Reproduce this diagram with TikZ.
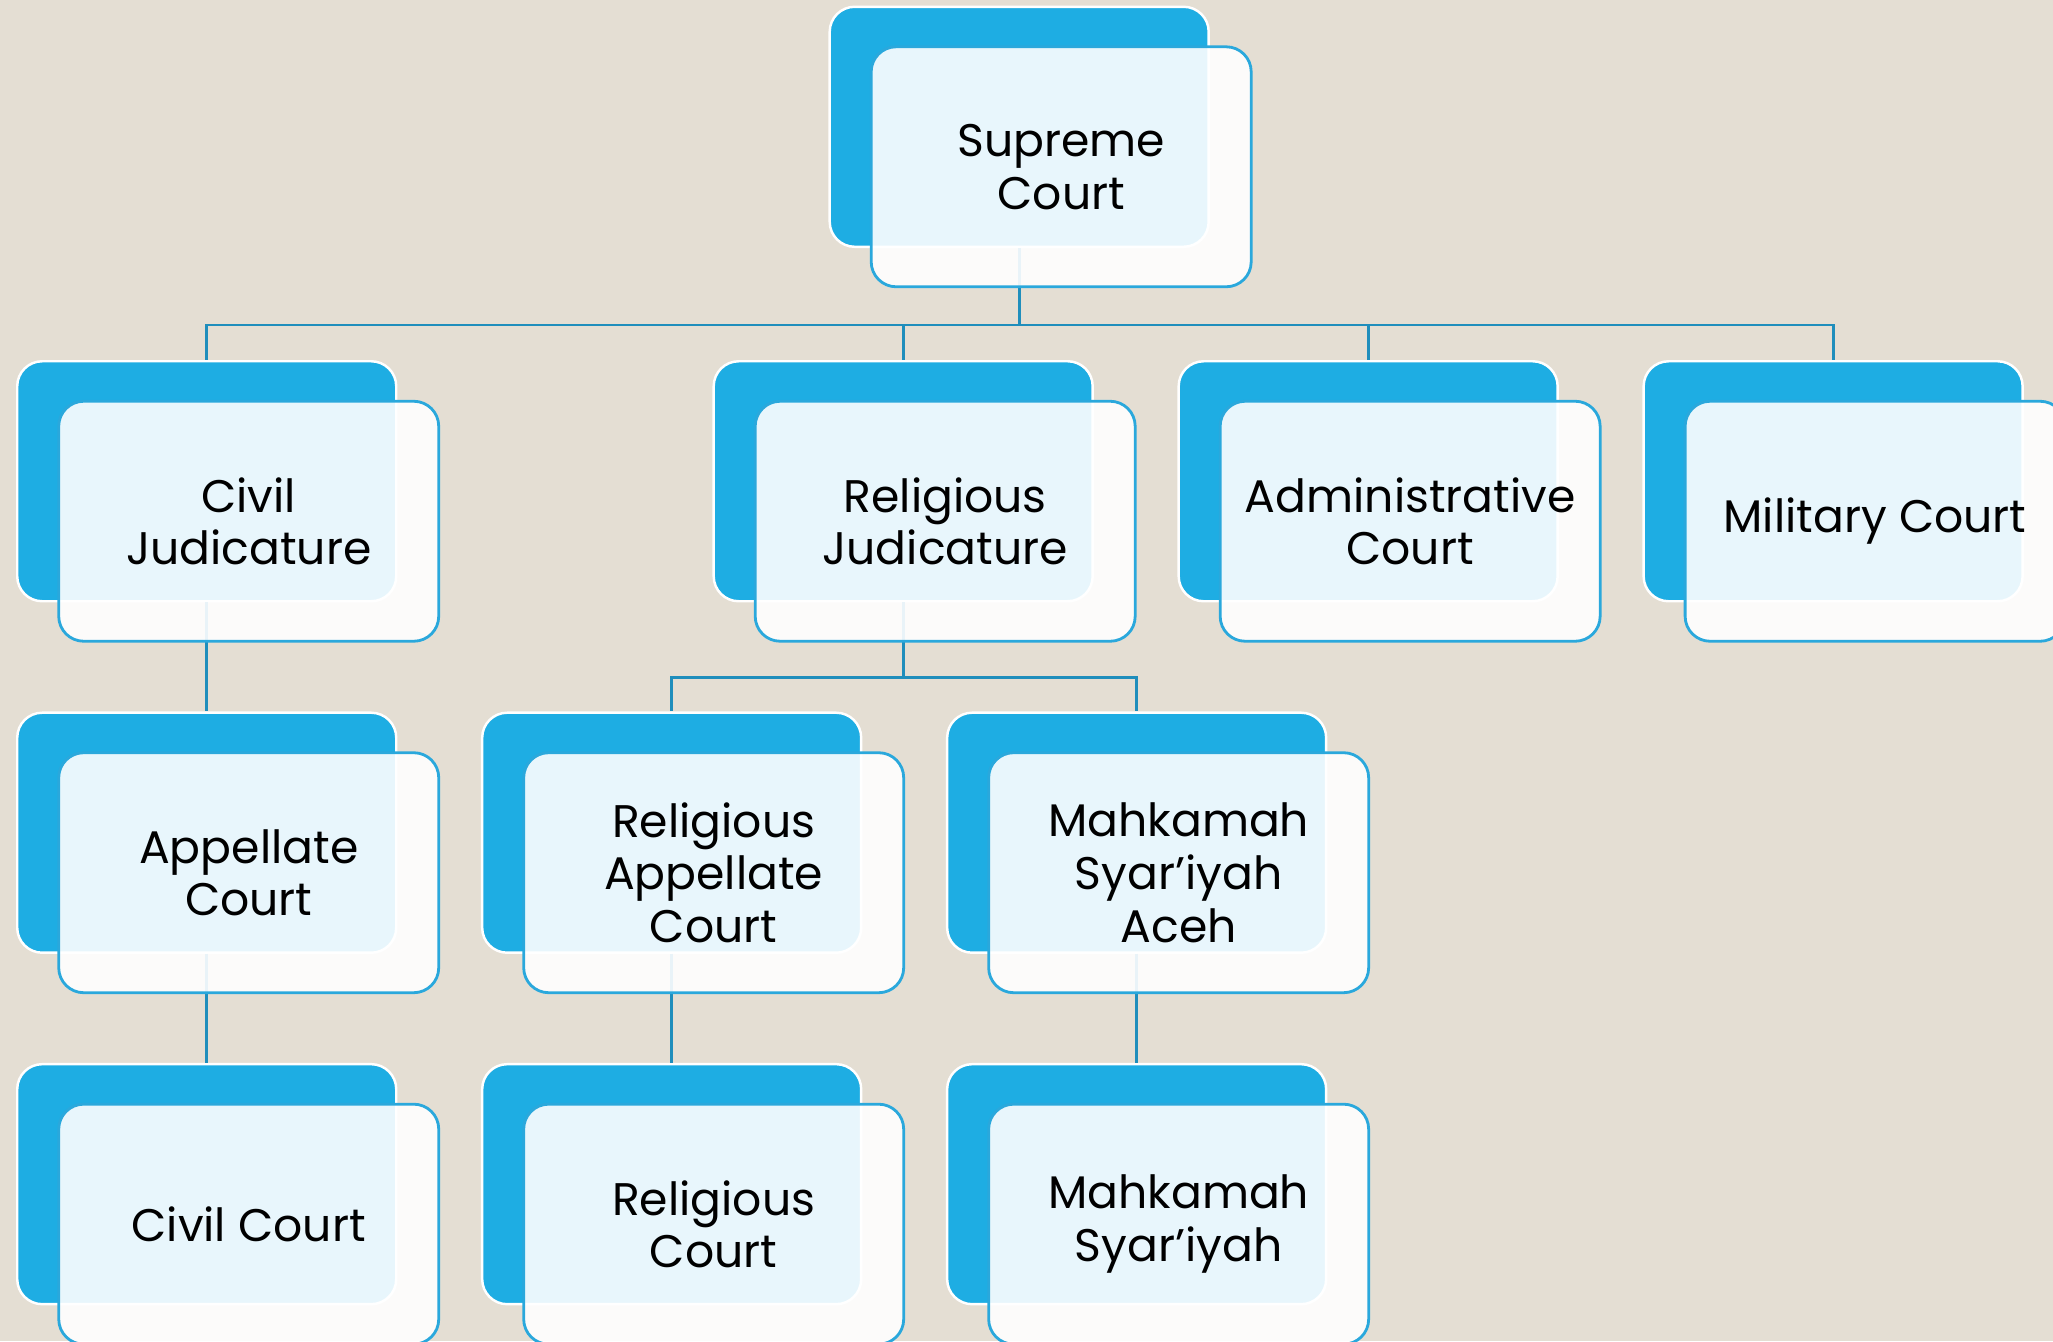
\documentclass[tikz,border=0pt]{standalone}
\usepackage{fontspec}
\setmainfont{Poppins}
\usepackage{tikz}
\usetikzlibrary{positioning, calc}
\definecolor{paper}{HTML}{E4DED3}
\definecolor{courtblue}{HTML}{1EADE3}
\definecolor{edgeblue}{HTML}{2AA8DC}
\definecolor{linkblue}{HTML}{1F8EBC}
\tikzstyle{back} = [rectangle, draw=white, line width=0.7pt, fill=courtblue, rounded corners=0.25cm, minimum width=3.79cm, minimum height=2.4cm, inner sep=0pt]
\tikzstyle{front} = [rectangle, draw=edgeblue, line width=0.8pt, fill=white, fill opacity=0.9, text opacity=1, rounded corners=0.25cm, minimum width=3.8cm, minimum height=2.4cm, inner sep=0pt, align=center, font=\fontsize{13}{15}\selectfont]
\tikzstyle{link} = [linkblue, line width=0.8pt]

\begin{document}
\begin{tikzpicture}[node distance=1.09cm and 0.835cm]
    \fill[paper] (0,0) rectangle (20.53,-13.41);
    \useasboundingbox (0,0) rectangle (20.53,-13.41);
    \clip (0,0) rectangle (20.53,-13.41);

    % back boxes
    \node (civil) [back, anchor=north west] at (0.16,-3.60) {};
    \node (reljud) [back, right=3.15cm of civil] {};
    \node (admin) [back, right=of reljud] {};
    \node (military) [back, right=of admin] {};
    \node (sup) [back, above=1.12cm of reljud, xshift=1.16cm] {};
    \node (appel) [back, below=of civil] {};
    \node (relapp) [back, right=of appel] {};
    \node (aceh) [back, right=of relapp] {};
    \node (civct) [back, below=of appel] {};
    \node (relct) [back, below=of relapp] {};
    \node (syar) [back, below=of aceh] {};

    % connectors
    \coordinate [below=0.77cm of sup.south] (sup-bus);
    \foreach \kid in {civil, reljud, admin, military}
        \draw[link] (sup.south) -- (sup-bus) -| (\kid.north);
    \coordinate [below=0.75cm of reljud.south] (reljud-bus);
    \foreach \kid in {relapp, aceh}
        \draw[link] (reljud.south) -- (reljud-bus) -| (\kid.north);
    \draw[link] (civil.south) -- (appel.north);
    \draw[link] (appel.south) -- (civct.north);
    \draw[link] (relapp.south) -- (relct.north);
    \draw[link] (aceh.south) -- (syar.north);

    % front boxes
    \node (sup-f) [front] at ([shift={(0.42,-0.40)}]sup) {Supreme\\Court};
    \node (civil-f) [front] at ([shift={(0.42,-0.40)}]civil) {Civil\\Judicature};
    \node (reljud-f) [front] at ([shift={(0.42,-0.40)}]reljud) {Religious\\Judicature};
    \node (admin-f) [front] at ([shift={(0.42,-0.40)}]admin) {Administrative\\Court};
    \node (military-f) [front] at ([shift={(0.42,-0.40)}]military) {Military Court};
    \node (appel-f) [front] at ([shift={(0.42,-0.40)}]appel) {Appellate\\Court};
    \node (relapp-f) [front] at ([shift={(0.42,-0.40)}]relapp) {Religious\\Appellate\\Court};
    \node (aceh-f) [front] at ([shift={(0.42,-0.40)}]aceh) {Mahkamah\\Syar’iyah\\Aceh};
    \node (civct-f) [front] at ([shift={(0.42,-0.40)}]civct) {Civil Court};
    \node (relct-f) [front] at ([shift={(0.42,-0.40)}]relct) {Religious\\Court};
    \node (syar-f) [front] at ([shift={(0.42,-0.40)}]syar) {Mahkamah\\Syar’iyah};
\end{tikzpicture}
\end{document}
